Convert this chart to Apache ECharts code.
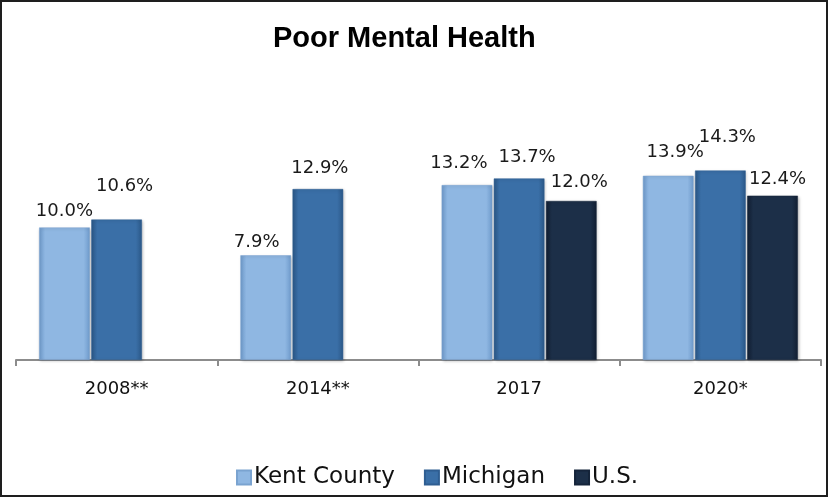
<!DOCTYPE html>
<html lang="en">
<head>
    <meta charset="UTF-8">
    <title>Poor Mental Health</title>
    <script type="text/javascript" src="https://cdn.jsdelivr.net/npm/echarts@6/dist/echarts.min.js"></script>
    <style>
        html, body { margin: 0; padding: 0; background: #fff; }
        #main { width: 829px; height: 498px; }
    </style>
</head>
<body>
<div id="main"></div>
<script>
    // data
    var years = ['2008**', '2014**', '2017', '2020*'];
    var kent = [10.0, 7.9, 13.2, 13.9];
    var michigan = [10.6, 12.9, 13.7, 14.3];
    var us = ['-', '-', 12.0, 12.4];

    // label nudges (the original labels were dragged by hand)
    var kentShift = [[0, 0], [-9, 3], [-8, -6], [7, -7]];
    var michShift = [[8, -17], [2, -5], [8, -5], [7, -17]];
    var usShift = [[0, 0], [0, 0], [8, -3], [5, 0]];

    function bevel(edge, mid) {
        return new echarts.graphic.LinearGradient(0, 0, 1, 0, [
            {offset: 0, color: edge},
            {offset: 0.12, color: mid},
            {offset: 0.88, color: mid},
            {offset: 1, color: edge}
        ]);
    }

    function items(values, shift) {
        return values.map(function (v, i) {
            return {
                value: v,
                label: {offset: shift[i]}
            };
        });
    }

    var labelStyle = {
        show: true,
        position: 'top',
        distance: 7,
        fontFamily: 'DejaVu Sans',
        fontSize: 18,
        color: '#1a1a1a',
        formatter: function (p) { return p.value.toFixed(1) + '%'; }
    };

    var myChart = echarts.init(document.getElementById('main'));
    var option = {
        animation: false,
        title: {
            text: 'Poor Mental Health',
            left: 268,
            top: 19,
            textStyle: {
                fontFamily: 'Liberation Sans',
                fontWeight: 'bold',
                fontSize: 29,
                color: '#000'
            }
        },
        legend: {
            left: 231,
            top: 461,
            itemWidth: 14,
            itemHeight: 14,
            itemGap: 29,
            icon: 'rect',
            textStyle: {
                fontFamily: 'DejaVu Sans',
                fontSize: 23,
                color: '#111',
                padding: [0, 0, 0, -2]
            },
            data: ['Kent County', 'Michigan', 'U.S.']
        },
        graphic: [{
            type: 'rect',
            shape: {x: 1, y: 1, width: 826, height: 495},
            style: {fill: 'none', stroke: '#1e1e1e', lineWidth: 2},
            silent: true
        }],
        grid: {left: 16, right: 8, top: 148, bottom: 138},
        xAxis: {
            type: 'category',
            data: years,
            axisLine: {show: true, lineStyle: {color: '#8c8c8c', width: 2}},
            axisTick: {show: true, length: 6, lineStyle: {color: '#8c8c8c', width: 2}},
            axisLabel: {
                margin: 20,
                fontFamily: 'DejaVu Sans',
                fontSize: 18,
                color: '#111'
            }
        },
        yAxis: {
            type: 'value',
            min: 0,
            max: 16,
            show: false,
            splitLine: {show: false}
        },
        series: [
            {
                name: 'Kent County',
                type: 'bar',
                barGap: '3%',
                barCategoryGap: '23%',
                data: items(kent, kentShift),
                label: labelStyle,
                itemStyle: {
                    color: bevel('#6f9bcc', '#8fb7e2'),
                    borderColor: '#7aa3d0',
                    borderWidth: 0.5,
                    shadowColor: 'rgba(0,0,0,0.25)',
                    shadowBlur: 3,
                    shadowOffsetX: 1,
                    shadowOffsetY: 1
                }
            },
            {
                name: 'Michigan',
                type: 'bar',
                data: items(michigan, michShift),
                label: labelStyle,
                itemStyle: {
                    color: bevel('#2b5888', '#3a6fa7'),
                    borderColor: '#2f5e92',
                    borderWidth: 0.5,
                    shadowColor: 'rgba(0,0,0,0.25)',
                    shadowBlur: 3,
                    shadowOffsetX: 1,
                    shadowOffsetY: 1
                }
            },
            {
                name: 'U.S.',
                type: 'bar',
                data: items(us, usShift),
                label: labelStyle,
                itemStyle: {
                    color: bevel('#121f33', '#1c2f48'),
                    borderColor: '#15243a',
                    borderWidth: 0.5,
                    shadowColor: 'rgba(0,0,0,0.25)',
                    shadowBlur: 3,
                    shadowOffsetX: 1,
                    shadowOffsetY: 1
                }
            }
        ]
    };
    myChart.setOption(option);
</script>
</body>
</html>
